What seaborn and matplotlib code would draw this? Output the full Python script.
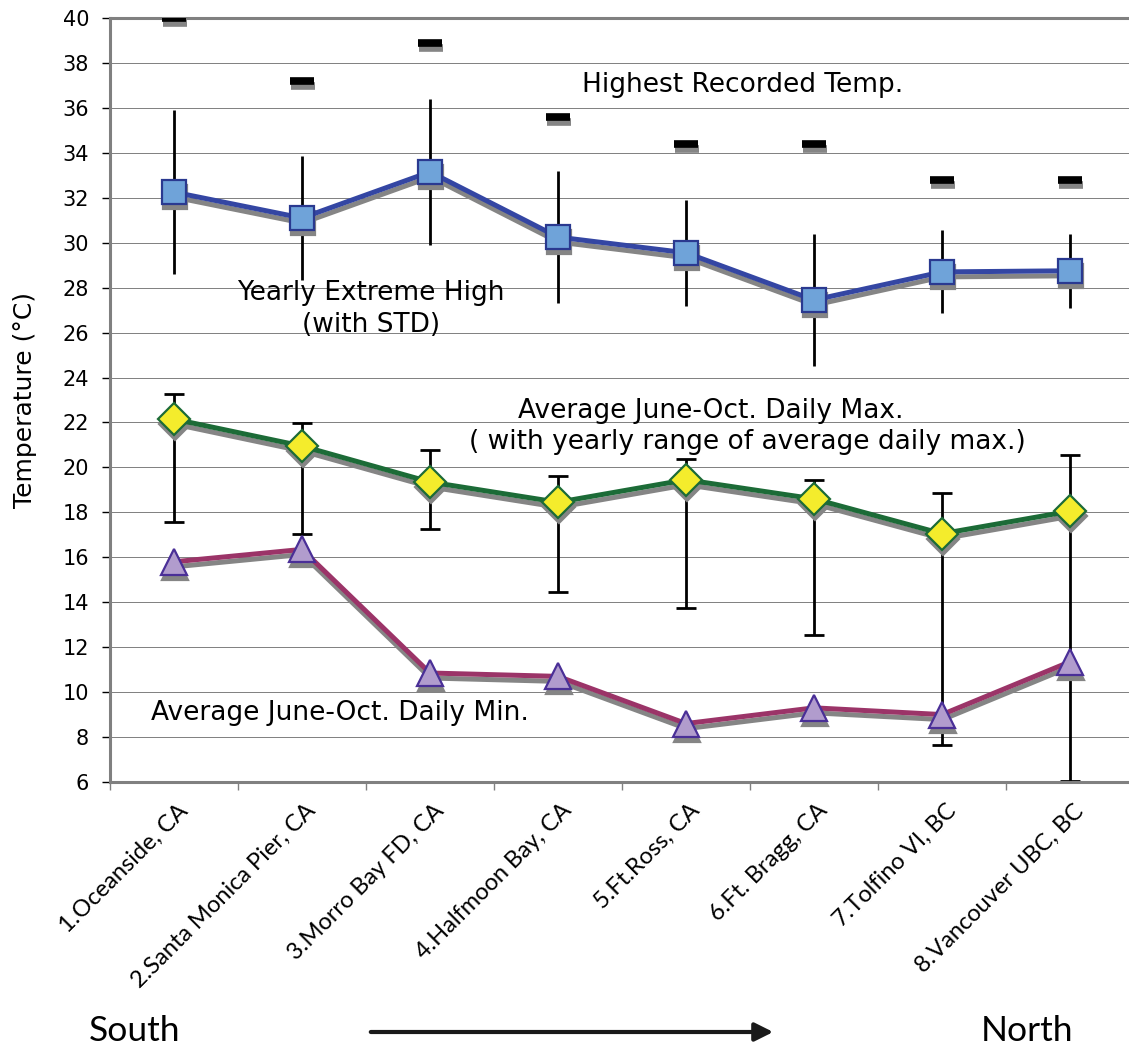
import numpy as np
import pandas as pd
import matplotlib
matplotlib.use("Agg")
import matplotlib.pyplot as plt
import matplotlib.transforms as mtransforms
import seaborn as sns

# station names, south -> north
sites = ["1.Oceanside, CA", "2.Santa Monica Pier, CA", "3.Morro Bay FD, CA",
         "4.Halfmoon Bay, CA", "5.Ft.Ross, CA", "6.Ft. Bragg, CA",
         "7.Tolfino VI, BC", "8.Vancouver UBC, BC"]

# temperatures (deg C)
record_high = [40.0, 37.2, 38.9, 35.6, 34.4, 34.4, 32.8, 32.8]
extreme_high = [32.25, 31.1, 33.15, 30.25, 29.55, 27.45, 28.7, 28.75]
extreme_std = [3.65, 2.75, 3.25, 2.95, 2.35, 2.95, 1.85, 1.65]
avg_max = [22.15, 20.95, 19.35, 18.45, 19.45, 18.6, 17.05, 18.05]
avg_max_hi = [23.27, 21.98, 20.77, 19.62, 20.37, 19.44, 18.86, 20.55]
avg_max_lo = [17.57, 17.04, 17.26, 14.45, 13.74, 12.54, 7.65, 6.05]
avg_min = [15.8, 16.35, 10.85, 10.7, 8.6, 9.3, 9.0, 11.35]

sns.set_style("white")
plt.rcParams['font.family'] = ['DejaVu Sans']
plt.rcParams.update({"text.color": "black", "axes.labelcolor": "black",
                     "xtick.color": "black", "ytick.color": "black"})

fig = plt.figure(figsize=(11.29, 10.51), dpi=100)
ax = fig.add_axes([110 / 1129, 1 - 782 / 1051, 1024 / 1129, 764 / 1051])

pos = np.arange(len(sites))
df = pd.DataFrame({"pos": pos, "record": record_high, "ext": extreme_high,
                   "max": avg_max, "min": avg_min})

shadow_tf = ax.transData + mtransforms.ScaledTranslation(0.5 / 100, -5 / 100, fig.dpi_scale_trans)
shade = "#858585"

# error bars
ax.errorbar(pos, extreme_high, yerr=extreme_std, fmt="none", ecolor="black",
            elinewidth=2, capsize=0, zorder=2)
lo = np.array(avg_max) - np.array(avg_max_lo)
hi = np.array(avg_max_hi) - np.array(avg_max)
ax.errorbar(pos, avg_max, yerr=[lo, hi], fmt="none", ecolor="black",
            elinewidth=2, capsize=7, capthick=2, zorder=2)

# lines with drop shadow
series = [
    ("ext", "#3446a3", "s", 17, "#6fa3d9", "#2a3990"),
    ("max", "#1c6b37", "D", 16.5, "#f4ec2c", "#1c6b37"),
    ("min", "#9b3468", "^", 18.5, "#b19ccd", "#4a2f97"),
]
for col, lc, mk, ms, fc, ec in series:
    sns.lineplot(data=df, x="pos", y=col, ax=ax, color=shade, lw=3.6, marker=mk, ms=ms,
                 mfc=shade, mec=shade, mew=1.6, transform=shadow_tf, errorbar=None, zorder=3)
    sns.lineplot(data=df, x="pos", y=col, ax=ax, color=lc, lw=3.6, marker=mk, ms=ms,
                 mfc=fc, mec=ec, mew=1.6, errorbar=None, zorder=4)

# highest recorded temperature dashes
sns.lineplot(data=df, x="pos", y="record", ax=ax, ls="", marker="_", ms=17, mew=5.5,
             mec=shade, transform=shadow_tf, errorbar=None, zorder=3)
sns.lineplot(data=df, x="pos", y="record", ax=ax, ls="", marker="_", ms=17, mew=5.5,
             mec="black", errorbar=None, zorder=4)

ax.set_xlim(-0.5, len(sites) - 0.5)
ax.set_ylim(6, 40)
ax.set_yticks(np.arange(6, 41, 2))
ax.set_xticks(pos, sites)
ax.set_xticks(np.arange(-0.5, len(sites), 1), minor=True)
ax.yaxis.grid(True, color="#6a6a6a", lw=0.6)
ax.set_axisbelow(True)

for side in ["left", "bottom", "top"]:
    ax.spines[side].set_color("#808080")
    ax.spines[side].set_linewidth(2.2)
ax.spines["right"].set_visible(False)

ax.tick_params(axis="y", length=6, width=1, color="black", pad=9, labelsize=15, left=True)
ax.tick_params(axis="x", which="major", length=0, pad=13)
ax.tick_params(axis="x", which="minor", length=6, width=1, color="#808080", bottom=True)
for lab in ax.get_xticklabels():
    lab.set_rotation(45)
    lab.set_ha("right")
    lab.set_va("top")
    lab.set_rotation_mode("anchor")
    lab.set_fontfamily("Lato")
    lab.set_fontsize(17)
    lab.set_transform(lab.get_transform() + mtransforms.ScaledTranslation(3 / 100, 0, fig.dpi_scale_trans))

ax.set_xlabel("")
ax.set_ylabel("Temperature (°C)", fontsize=18, va="center")
ax.yaxis.set_label_coords(-0.083, 0.5)

# annotations
fs = 19
ax.text(4.44, 37.02, "Highest Recorded Temp.", ha="center", va="center", fontsize=fs)
ax.text(1.54, 27.76, "Yearly Extreme High", ha="center", va="center", fontsize=fs)
ax.text(1.54, 26.34, "(with STD)", ha="center", va="center", fontsize=fs)
ax.text(4.19, 22.51, "Average June-Oct. Daily Max.", ha="center", va="center", fontsize=fs)
ax.text(4.48, 21.13, "( with yearly range of average daily max.)", ha="center", va="center", fontsize=fs)
ax.text(1.30, 9.07, "Average June-Oct. Daily Min.", ha="center", va="center", fontsize=fs)

# south -> north arrow
fig.text(135 / 1129, 1 - 1031 / 1051, "South", ha="center", va="center", fontsize=25.5, family="Lato")
fig.text(1027 / 1129, 1 - 1031 / 1051, "North", ha="center", va="center", fontsize=25.5, family="Lato")
ax.annotate("", xy=(776 / 1129, 1 - 1032 / 1051), xytext=(368 / 1129, 1 - 1032 / 1051),
            xycoords="figure fraction", textcoords="figure fraction",
            arrowprops=dict(arrowstyle="-|>,head_length=1.1,head_width=0.55", lw=3, color="#1a1a1a"),
            annotation_clip=False)

fig.savefig("out.png", dpi=100)
